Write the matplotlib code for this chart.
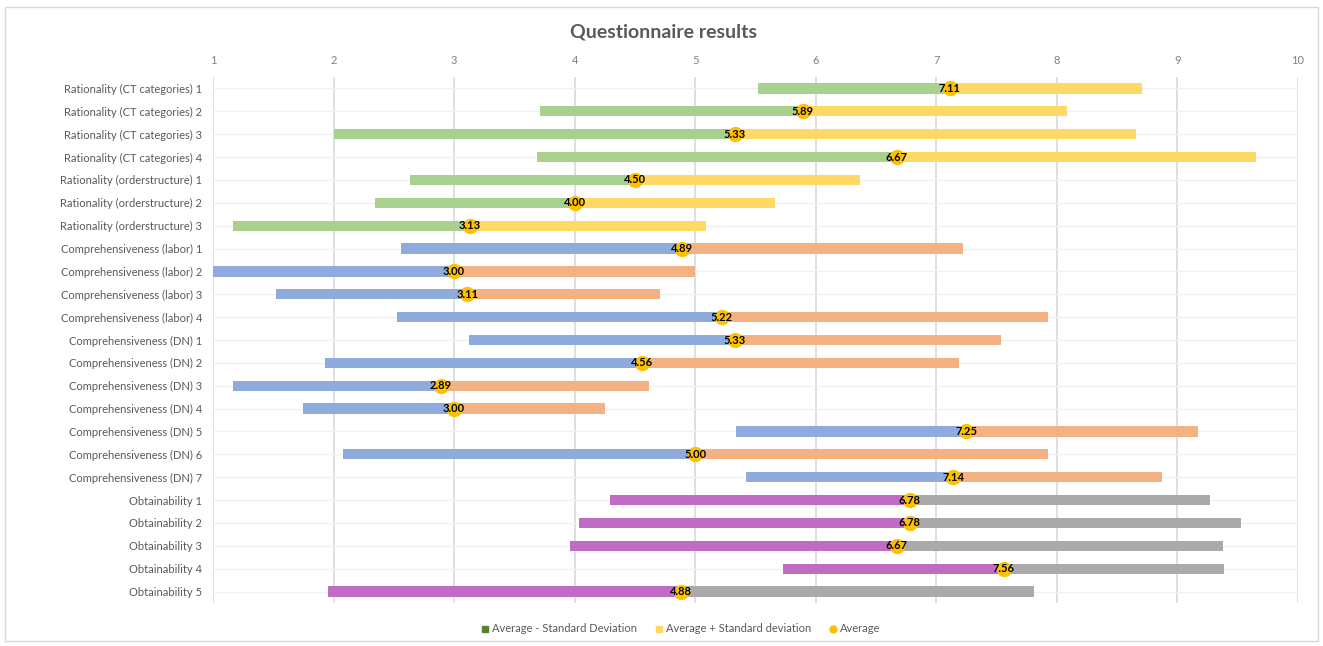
import matplotlib
matplotlib.use("Agg")
import matplotlib.pyplot as plt
from matplotlib.lines import Line2D
from matplotlib.patches import Rectangle

categories = [
    "Rationality (CT categories) 1", "Rationality (CT categories) 2",
    "Rationality (CT categories) 3", "Rationality (CT categories) 4",
    "Rationality (orderstructure) 1", "Rationality (orderstructure) 2",
    "Rationality (orderstructure) 3",
    "Comprehensiveness (labor) 1", "Comprehensiveness (labor) 2",
    "Comprehensiveness (labor) 3", "Comprehensiveness (labor) 4",
    "Comprehensiveness (DN) 1", "Comprehensiveness (DN) 2",
    "Comprehensiveness (DN) 3", "Comprehensiveness (DN) 4",
    "Comprehensiveness (DN) 5", "Comprehensiveness (DN) 6",
    "Comprehensiveness (DN) 7",
    "Obtainability 1", "Obtainability 2", "Obtainability 3",
    "Obtainability 4", "Obtainability 5",
]
lower = [5.52, 3.71, 2.00, 3.69, 2.63, 2.34, 1.17, 2.56, 1.00, 1.52, 2.53,
         3.12, 1.93, 1.17, 1.75, 5.34, 2.08, 5.42, 4.29, 4.04, 3.96, 5.73, 1.95]
average = [7.11, 5.89, 5.33, 6.67, 4.50, 4.00, 3.13, 4.89, 3.00, 3.11, 5.22,
           5.33, 4.56, 2.89, 3.00, 7.25, 5.00, 7.14, 6.78, 6.78, 6.67, 7.56, 4.88]
upper = [8.71, 8.08, 8.66, 9.65, 6.37, 5.66, 5.09, 7.22, 5.00, 4.71, 7.93,
         7.54, 7.19, 4.62, 4.25, 9.17, 7.93, 8.87, 9.27, 9.53, 9.38, 9.39, 7.81]
groups = ["R"] * 7 + ["C"] * 11 + ["O"] * 5
x_ticks = [1, 2, 3, 4, 5, 6, 7, 8, 9, 10]

low_colors = {"R": "#A9D18E", "C": "#8FAADC", "O": "#C06BC4"}
high_colors = {"R": "#FFD966", "C": "#F4B183", "O": "#ABA9A9"}

plt.rcParams['font.family'] = ['Lato', 'DejaVu Sans']
text_gray = "#595959"

fig = plt.figure(figsize=(13.23, 6.46), dpi=100)
fig.patches.append(Rectangle((5 / 1323, 1 - 641 / 646), 1313 / 1323, 634 / 646,
                             transform=fig.transFigure, fill=False,
                             edgecolor="#D9D9D9", linewidth=1))
ax = fig.add_axes([213 / 1323, 1 - 603 / 646, 1085 / 1323, 526 / 646])

ys = list(range(len(categories)))
bar_h = 0.45
for i in ys:
    g = groups[i]
    ax.barh(i, average[i] - lower[i], left=lower[i], height=bar_h,
            color=low_colors[g], zorder=3)
    ax.barh(i, upper[i] - average[i], left=average[i], height=bar_h,
            color=high_colors[g], zorder=3)
ax.plot(average, ys, linestyle="none", marker="o", markersize=10,
        color="#FFC000", zorder=4)
for i in ys:
    ax.text(average[i], i, f"{average[i]:.2f}", ha="center", va="center",
            fontsize=8, fontweight="bold", color="black", zorder=5)

ax.set_xlim(1, 10)
ax.set_ylim(len(categories) - 0.5, -0.5)
ax.set_xticks(x_ticks)
ax.set_yticks(ys)
ax.set_yticklabels(categories)
ax.xaxis.tick_top()
ax.tick_params(axis="x", length=0, colors="#808080", labelsize=8, pad=8)
ax.tick_params(axis="y", length=0, colors=text_gray, labelsize=8, pad=8)
ax.grid(axis="x", color="#D9D9D9", linewidth=1.2, zorder=0)
ax.grid(axis="y", color="#F0F0F0", linewidth=1, zorder=0)
for s in ax.spines.values():
    s.set_visible(False)

fig.text(663 / 1323, 1 - 32 / 646, "Questionnaire results", ha="center",
         va="center", fontsize=14, fontweight="bold", color=text_gray)

handles = [
    Line2D([], [], linestyle="none", marker="s", markersize=5, color="#548235"),
    Line2D([], [], linestyle="none", marker="s", markersize=5, color="#FFD966"),
    Line2D([], [], linestyle="none", marker="o", markersize=5, color="#FFC000"),
]
labels = ["Average - Standard Deviation", "Average + Standard deviation", "Average"]
leg = fig.legend(handles, labels, loc="center", bbox_to_anchor=(680 / 1323, 1 - 629 / 646),
                 ncol=3, frameon=False, fontsize=8, handletextpad=0.1,
                 columnspacing=1.5, handlelength=1)
for t in leg.get_texts():
    t.set_color(text_gray)

fig.savefig("out.png", dpi=100)
